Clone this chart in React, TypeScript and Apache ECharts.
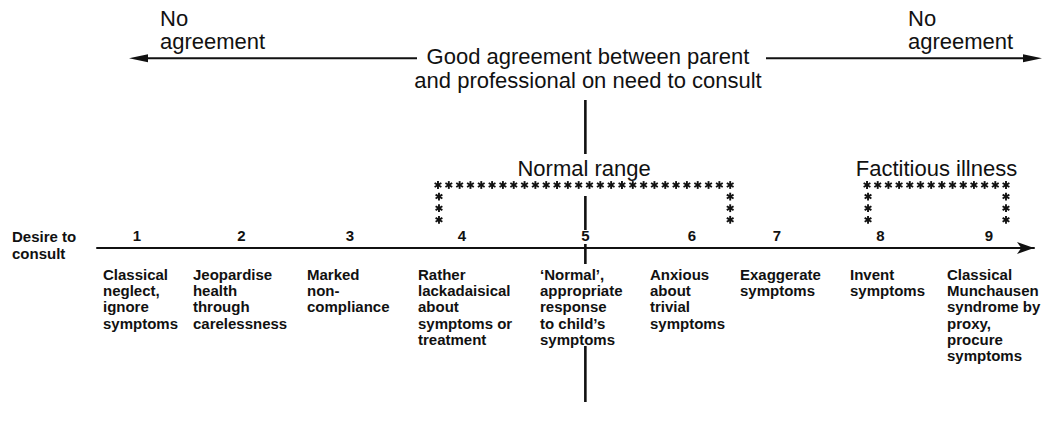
import React, { useEffect, useRef } from "react";
import * as echarts from "echarts";

// ---- data ----
const scaleLabels = ["1", "2", "3", "4", "5", "6", "7", "8", "9"];
// where each scale point sits along the "desire to consult" axis as drawn
const scalePositions = [1.0, 1.98, 3.0, 4.05, 5.21, 6.21, 7.01, 7.98, 9.0];
const descriptions = [
  "Classical\nneglect,\nignore\nsymptoms",
  "Jeopardise\nhealth\nthrough\ncarelessness",
  "Marked\nnon-\ncompliance",
  "Rather\nlackadaisical\nabout\nsymptoms or\ntreatment",
  "\u2018Normal\u2019,\nappropriate\nresponse\nto child\u2019s\nsymptoms",
  "Anxious\nabout\ntrivial\nsymptoms",
  "Exaggerate\nsymptoms",
  "Invent\nsymptoms",
  "Classical\nMunchausen\nsyndrome by\nproxy,\nprocure\nsymptoms",
];
// left edge of each description block, on the same axis
const descriptionStarts = [0.68, 1.525, 2.596, 3.638, 4.784, 5.817, 6.662, 7.695, 8.606];
const rangeNames = ["Normal range", "Factitious illness"];
const rangeStarts = [3.826, 7.855];
const rangeEnds = [6.57, 9.16];
const axisTitle = "Desire to\nconsult";
const headerSide = "No\nagreement";
const headerCentre = "Good agreement between parent\nand professional on need to consult";

const INK = "#111111";
const FONT = '"Liberation Sans", Arial, Helvetica, sans-serif';

function asterisk(cx: number, cy: number) {
  const r = 3.9;
  return [90, 30, 150].map((a) => {
    const rad = (a * Math.PI) / 180;
    const dx = Math.cos(rad) * r;
    const dy = Math.sin(rad) * r;
    return {
      type: "line",
      shape: { x1: cx - dx, y1: cy - dy, x2: cx + dx, y2: cy + dy },
      style: { stroke: INK, lineWidth: 1.9 },
    };
  });
}

export default function App() {
  const ref = useRef<HTMLDivElement>(null);

  useEffect(() => {
    if (!ref.current) return;
    const chart = echarts.init(ref.current, undefined, { renderer: "svg" });

    const numberData = scaleLabels.map((n, i) => ({ name: n, value: [scalePositions[i], 0] }));
    const descData = descriptions.map((d, i) => ({ name: d, value: [descriptionStarts[i], 0] }));
    const rangeData = rangeNames.map((n, i) => ({ name: n, value: [rangeStarts[i], rangeEnds[i]] }));

    const option: any = {
      animation: false,
      backgroundColor: "#ffffff",
      grid: { left: 97, right: 19, top: 100, bottom: 177 },
      xAxis: {
        type: "value",
        min: 0.624,
        max: 9.423,
        axisLine: {
          show: true,
          symbol: ["none", "arrow"],
          symbolSize: [9, 17],
          lineStyle: { color: INK, width: 2 },
        },
        axisTick: { show: false },
        axisLabel: { show: false },
        splitLine: { show: false },
      },
      yAxis: { type: "value", min: 0, max: 1, show: false },
      graphic: [
        {
          type: "text",
          left: 160,
          top: 7,
          style: { text: headerSide, fontSize: 22, lineHeight: 23, fontFamily: FONT, fill: INK },
        },
        {
          type: "text",
          left: 908,
          top: 7,
          style: { text: headerSide, fontSize: 22, lineHeight: 23, fontFamily: FONT, fill: INK },
        },
        {
          type: "text",
          x: 588,
          y: 44,
          style: {
            text: headerCentre,
            fontSize: 22,
            lineHeight: 24,
            fontFamily: FONT,
            fill: INK,
            align: "center",
            verticalAlign: "top",
          },
        },
        { type: "line", shape: { x1: 144, y1: 58.3, x2: 417, y2: 58.3 }, style: { stroke: INK, lineWidth: 2 } },
        { type: "polygon", shape: { points: [[129, 58.3], [148, 54.3], [148, 62.3]] }, style: { fill: INK } },
        { type: "line", shape: { x1: 766, y1: 58.3, x2: 1026, y2: 58.3 }, style: { stroke: INK, lineWidth: 2 } },
        { type: "polygon", shape: { points: [[1042, 58.3], [1023, 54.3], [1023, 62.3]] }, style: { fill: INK } },
        {
          type: "text",
          x: 12,
          y: 228,
          style: {
            text: axisTitle,
            fontSize: 15,
            fontWeight: "bold",
            lineHeight: 17,
            fontFamily: FONT,
            fill: INK,
            align: "left",
            verticalAlign: "top",
          },
        },
      ],
      series: [
        {
          type: "scatter",
          data: numberData,
          symbolSize: 0,
          silent: true,
          itemStyle: { opacity: 1 },
          label: {
            show: true,
            formatter: "{b}",
            position: [0, -13],
            align: "center",
            verticalAlign: "middle",
            fontSize: 15,
            fontWeight: "bold",
            fontFamily: FONT,
            color: INK,
            opacity: 1,
            textBorderWidth: 0,
          },
        },
        {
          type: "scatter",
          data: descData,
          symbolSize: 0,
          silent: true,
          itemStyle: { opacity: 1 },
          label: {
            show: true,
            formatter: "{b}",
            position: [0, 18],
            align: "left",
            verticalAlign: "top",
            fontSize: 15,
            lineHeight: 16.3,
            fontWeight: "bold",
            fontFamily: FONT,
            color: INK,
            opacity: 1,
            textBorderWidth: 0,
          },
        },
        {
          type: "custom",
          data: rangeData,
          clip: false,
          silent: true,
          encode: { x: [0, 1] },
          renderItem: (params: any, api: any) => {
            const p0 = api.coord([api.value(0), 0]);
            const p1 = api.coord([api.value(1), 0]);
            const baseY = p0[1];
            const topY = baseY - 63;
            const n = Math.round((p1[0] - p0[0]) / 10.8);
            const step = (p1[0] - p0[0]) / n;
            const children: any[] = [];
            for (let i = 0; i <= n; i++) children.push(...asterisk(p0[0] + i * step, topY));
            for (let k = 1; k <= 3; k++) {
              children.push(...asterisk(p0[0] + 1, topY + k * 11.6));
              children.push(...asterisk(p1[0], topY + k * 11.6));
            }
            children.push({
              type: "text",
              style: {
                text: rangeNames[params.dataIndex],
                x: (p0[0] + p1[0]) / 2,
                y: baseY - 80,
                align: "center",
                verticalAlign: "middle",
                fontSize: 22,
                fontFamily: FONT,
                fill: INK,
              },
            });
            return { type: "group", children };
          },
        },
        {
          type: "custom",
          data: [[scalePositions[4], 0]],
          clip: false,
          silent: true,
          encode: { x: 0, y: 1 },
          renderItem: (params: any, api: any) => {
            const p = api.coord([api.value(0), 0]);
            const segs = [
              [-148, -94],
              [-52, -18],
              [-4, 16],
              [98, 154],
            ];
            return {
              type: "group",
              children: segs.map((s) => ({
                type: "line",
                shape: { x1: p[0], y1: p[1] + s[0], x2: p[0], y2: p[1] + s[1] },
                style: { stroke: INK, lineWidth: 2.6 },
              })),
            };
          },
        },
      ],
    };

    chart.setOption(option);
    return () => chart.dispose();
  }, []);

  return (
    <div
      ref={ref}
      style={{ position: "absolute", left: 0, top: 0, width: 1053, height: 425, background: "#fff" }}
    />
  );
}
